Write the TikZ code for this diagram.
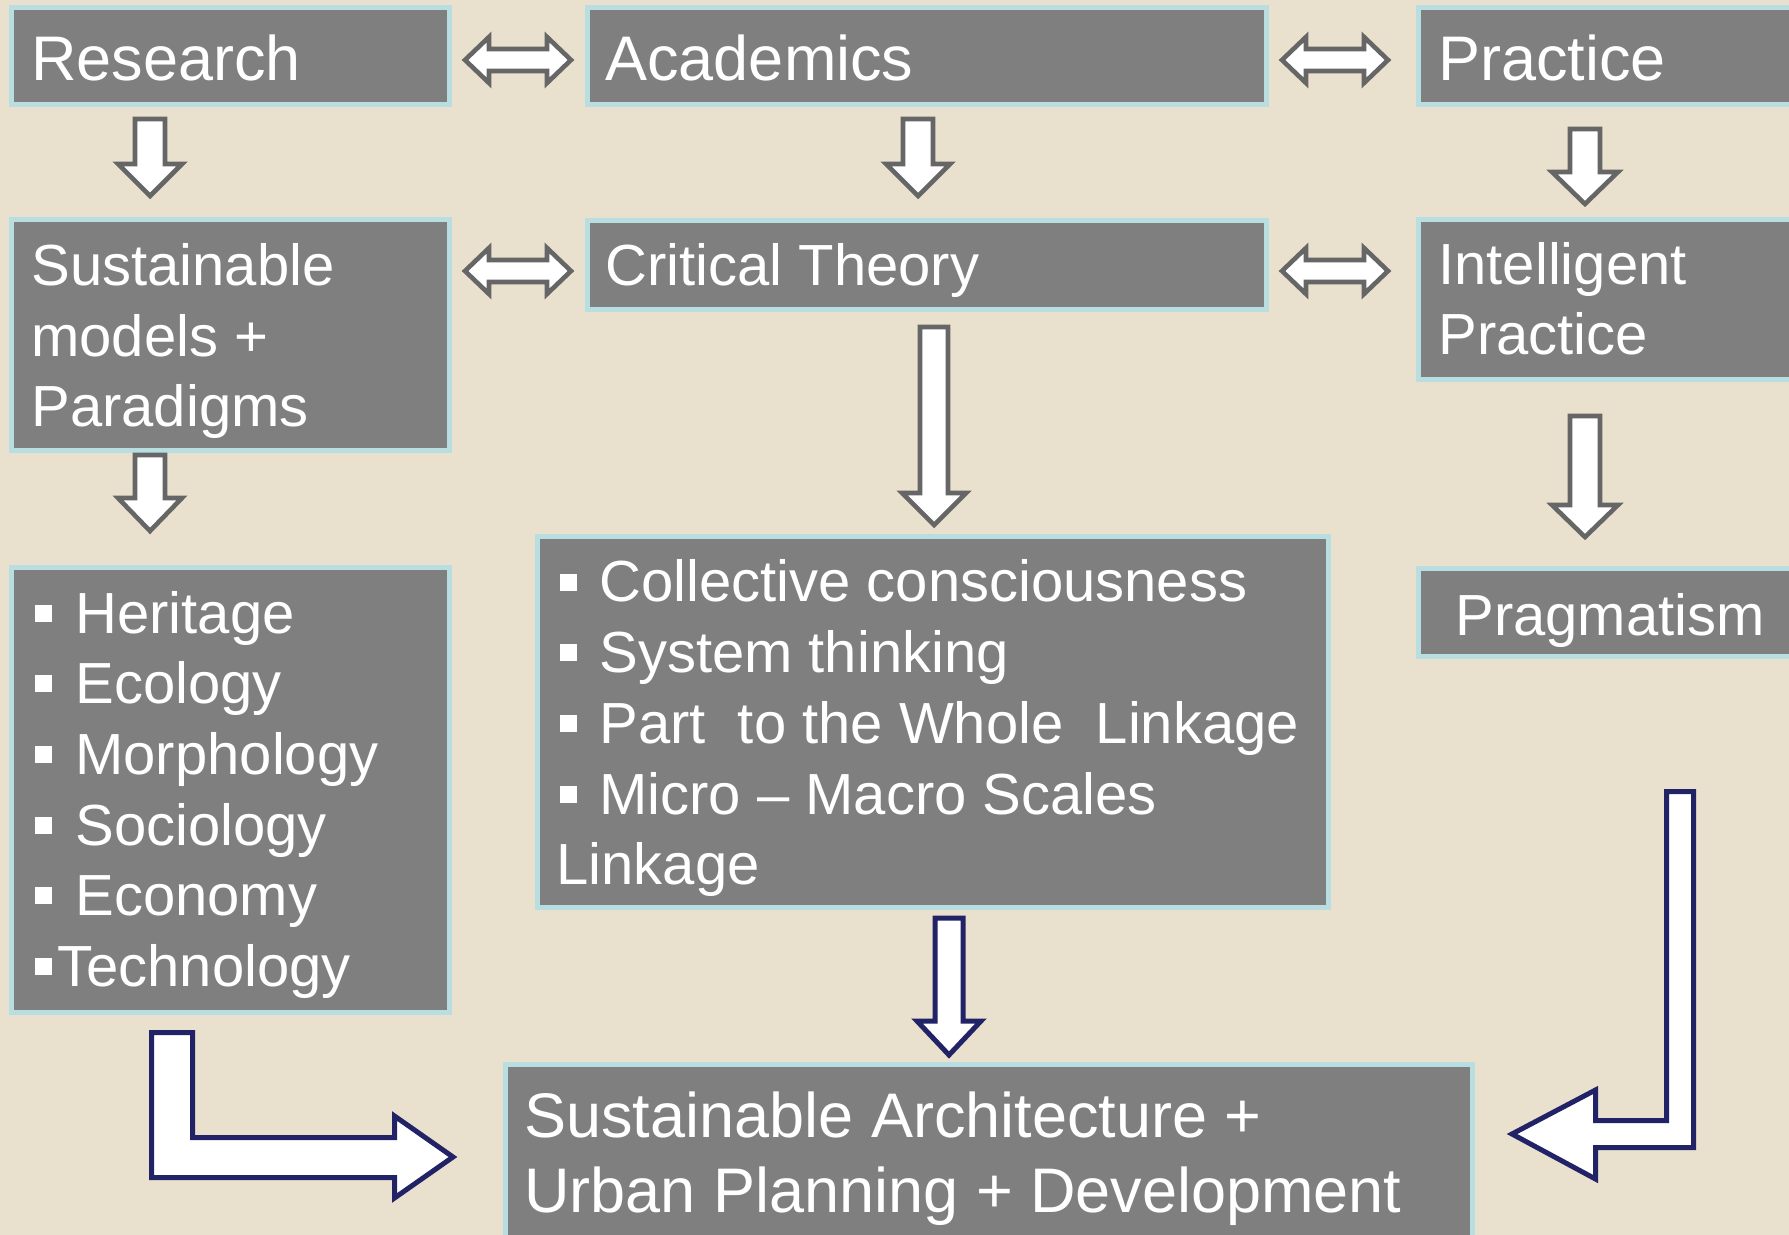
\documentclass[tikz,border=0pt]{standalone}
\usepackage{fontspec}
\setmainfont{Liberation Sans}
\usetikzlibrary{fit}
\definecolor{bgcol}{HTML}{E9E1CD}
\definecolor{boxfill}{HTML}{7F7F7F}
\definecolor{boxline}{HTML}{B8DEE2}
\definecolor{garrow}{HTML}{666666}
\definecolor{navy}{HTML}{222266}
\tikzset{
  box/.style={fill=boxfill, draw=boxline, line width=2.5pt, inner sep=0pt},
  bigtxt/.style={text=white, font=\fontsize{31.5}{36}\selectfont, anchor=base west, inner sep=0pt},
  midtxt/.style={text=white, font=\fontsize{29}{33}\selectfont, anchor=base west, inner sep=0pt},
  grayarrow/.style={fill=white, draw=garrow, line width=2.3pt, line join=miter},
  navyarrow/.style={fill=white, draw=navy, line width=2.5pt, line join=miter},
  bulletsq/.style={fill=white}
}
% double block arrow centred at (#1,#2)
\newcommand{\dblarrow}[2]{%
  \draw[grayarrow] (#1-53,#2) -- (#1-29,#2-23) -- (#1-29,#2-11) -- (#1+29,#2-11)
    -- (#1+29,#2-23) -- (#1+53,#2) -- (#1+29,#2+23) -- (#1+29,#2+11)
    -- (#1-29,#2+11) -- (#1-29,#2+23) -- cycle;}
% down block arrow: style, cx, top, headbase, tip, shaft half, head half
\newcommand{\downarr}[7]{%
  \draw[#1] (#2-#6,#3) -- (#2+#6,#3) -- (#2+#6,#4) -- (#2+#7,#4) -- (#2,#5)
    -- (#2-#7,#4) -- (#2-#6,#4) -- cycle;}
\newcommand{\bulletat}[2]{\fill[bulletsq] (#1,#2-28.5) rectangle (#1+17,#2-11.5);}
\begin{document}
\begin{tikzpicture}[x=0.5pt,y=-0.5pt]
\useasboundingbox (0,0) rectangle (1789,1235);
\clip (0,0) rectangle (1789,1235);
\fill[bgcol] (0,0) rectangle (1789,1235);

% boxes
\node[box, fit={(11.5,7.5) (449.5,104.5)}] (research) {};
\node[box, fit={(587,7.5) (1266,104.5)}] (academics) {};
\node[box, fit={(1418.5,7.5) (1810,104.5)}] (practice) {};
\node[box, fit={(11.5,219.5) (449.5,451)}] (sustain) {};
\node[box, fit={(587,220.5) (1266,309.5)}] (critical) {};
\node[box, fit={(1418.5,219.5) (1810,379.5)}] (intel) {};
\node[box, fit={(11.5,567.5) (449.5,1012.5)}] (heritage) {};
\node[box, fit={(537,536.5) (1328,907.5)}] (collective) {};
\node[box, fit={(1418.5,568.5) (1810,656.5)}] (pragma) {};
\node[box, fit={(505.5,1064.5) (1472.5,1260)}] (final) {};

% texts
\node[bigtxt] (tresearch) at (31,81) {Research};
\node[bigtxt] (tacademics) at (605,81) {Academics};
\node[bigtxt] (tpractice) at (1438,81) {Practice};
\node[midtxt] (tsus1) at (31,286) {Sustainable};
\node[midtxt] (tsus2) at (31,356.5) {models +};
\node[midtxt] (tsus3) at (31,427) {Paradigms};
\node[midtxt] (tcrit) at (605,286) {Critical Theory};
\node[midtxt] (tint1) at (1438,285) {Intelligent};
\node[midtxt] (tint2) at (1438,355) {Practice};
\node[midtxt] (th1) at (75,633) {Heritage};
\node[midtxt] (th2) at (75,703) {Ecology};
\node[midtxt] (th3) at (75,774) {Morphology};
\node[midtxt] (th4) at (75,845) {Sociology};
\node[midtxt] (th5) at (75,915) {Economy};
\node[midtxt] (th6) at (57,986) {Technology};
\bulletat{35}{633}\bulletat{35}{703}\bulletat{35}{774}
\bulletat{35}{845}\bulletat{35}{915}\bulletat{35}{986}
\node[midtxt] (tc1) at (599,602) {Collective consciousness};
\node[midtxt] (tc2) at (599,672) {System thinking};
\node[midtxt] (tc3) at (599,743) {Part\ \ to the Whole\ \ Linkage};
\node[midtxt] (tc4) at (599,814) {Micro – Macro Scales};
\node[midtxt] (tc5) at (556,884) {Linkage};
\bulletat{560}{602}\bulletat{560}{672}\bulletat{560}{743}\bulletat{560}{814}
\node[midtxt] (tprag) at (1455,635) {Pragmatism};
\node[bigtxt] (tfin1) at (524,1137) {Sustainable Architecture +};
\node[bigtxt] (tfin2) at (524,1212) {Urban Planning + Development};

% double arrows
\dblarrow{518}{60}
\dblarrow{1335}{60}
\dblarrow{518}{271}
\dblarrow{1335}{271}

% down arrows
\downarr{grayarrow}{150}{119}{164}{196}{15}{32}
\downarr{grayarrow}{918}{119}{164}{196}{15}{32}
\downarr{grayarrow}{1585}{129}{172}{204}{15}{33}
\downarr{grayarrow}{150}{455}{498}{531}{15}{32}
\downarr{grayarrow}{934}{327}{493}{525}{14}{32}
\downarr{grayarrow}{1585}{416}{505}{537}{15}{33}
\downarr{navyarrow}{949}{918}{1021}{1055}{14}{32}

% bent arrows
\draw[navyarrow] (151.5,1032.5) -- (192.5,1032.5) -- (192.5,1137.5) -- (394.5,1137.5)
  -- (394.5,1116) -- (453,1157) -- (394.5,1198) -- (394.5,1177.5) -- (151.5,1177.5) -- cycle;
\draw[navyarrow] (1693.5,791.5) -- (1693.5,1147.5) -- (1595.5,1147.5) -- (1595.5,1179)
  -- (1512,1134) -- (1595.5,1090) -- (1595.5,1120.5) -- (1666.5,1120.5) -- (1666.5,791.5) -- cycle;
\end{tikzpicture}
\end{document}
